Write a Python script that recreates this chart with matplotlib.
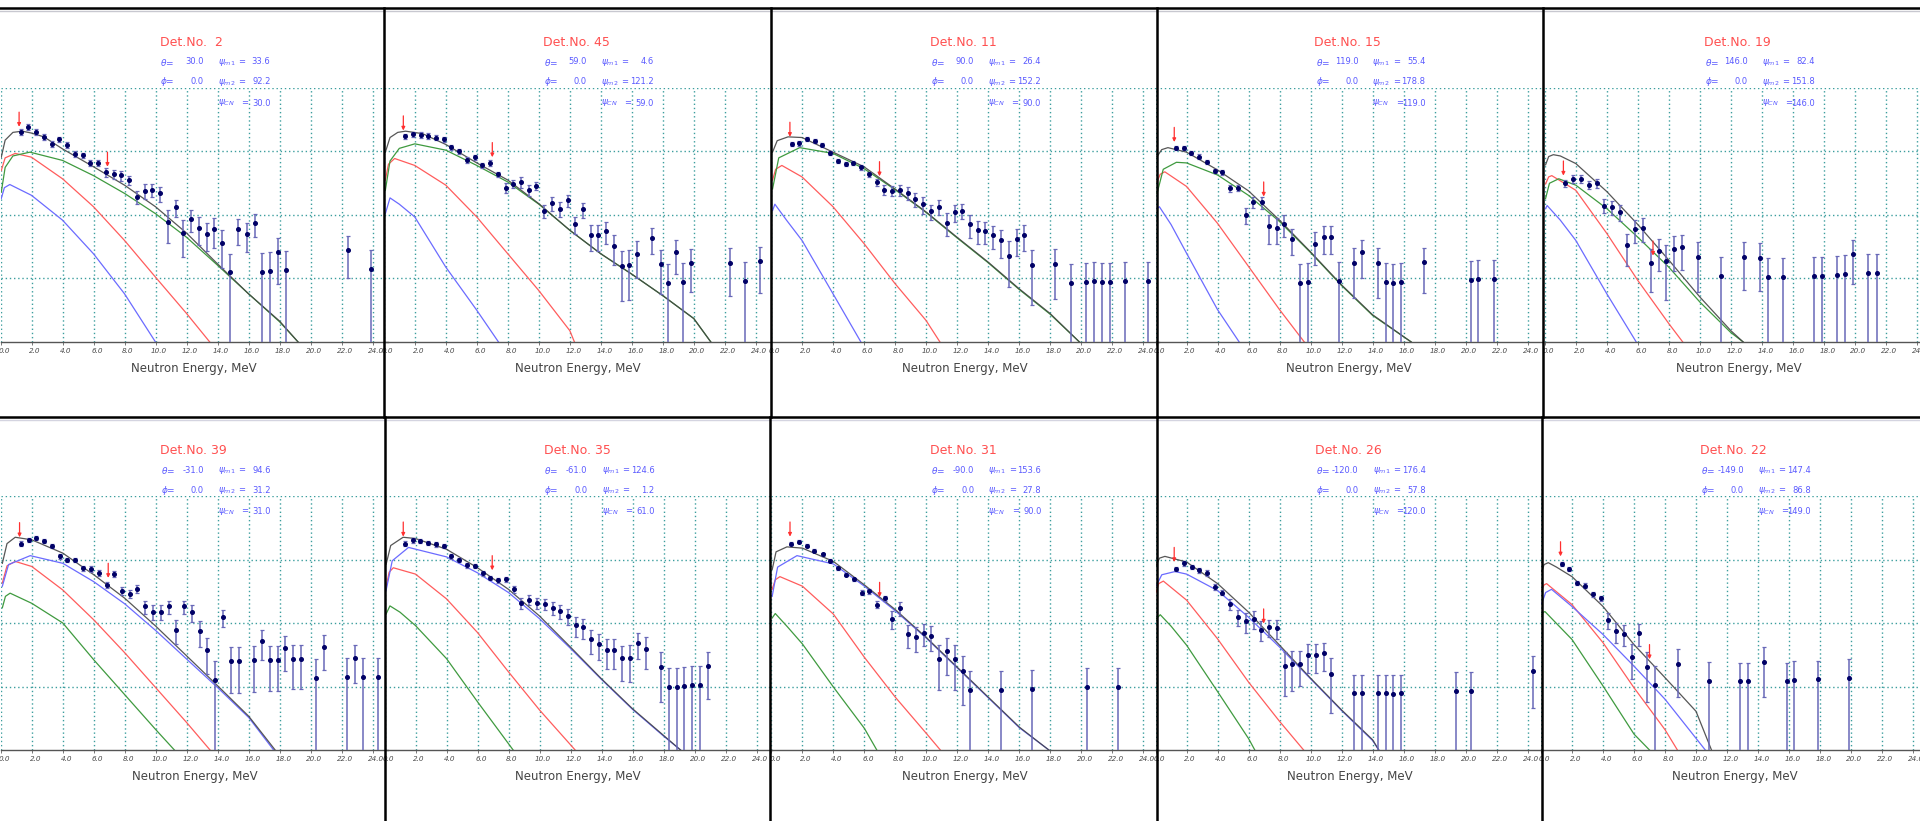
import numpy as np
import matplotlib
matplotlib.use("Agg")
import matplotlib.pyplot as plt
from matplotlib.lines import Line2D
from matplotlib.ticker import NullLocator
from matplotlib.transforms import ScaledTranslation

# detector settings, top row left to right, then bottom row
det_no = [2, 45, 11, 15, 19, 39, 35, 31, 26, 22]
theta = [30.0, 59.0, 90.0, 119.0, 146.0, -31.0, -61.0, -90.0, -120.0, -149.0]
phi = [0.0, 0.0, 0.0, 0.0, 0.0, 0.0, 0.0, 0.0, 0.0, 0.0]
psi_m1 = [33.6, 4.6, 26.4, 55.4, 82.4, 94.6, 124.6, 153.6, 176.4, 147.4]
psi_m2 = [92.2, 121.2, 152.2, 178.8, 151.8, 31.2, 1.2, 27.8, 57.8, 86.8]
psi_cn = [30.0, 59.0, 90.0, 119.0, 146.0, 31.0, 61.0, 90.0, 120.0, 149.0]

# measured spectra: energy (MeV), yield, relative error
p1_e = [1.3, 1.8, 2.3, 2.8, 3.3, 3.8, 4.3, 4.8, 5.3, 5.8,
        6.3, 6.8, 7.3, 7.8, 8.3, 8.8, 9.3, 9.8, 10.3, 10.8,
        11.3, 11.8, 12.3, 12.8, 13.3, 13.8, 14.3, 14.8, 15.3, 15.9,
        16.4, 16.9, 17.4, 17.9, 18.4, 22.4, 23.9]
p1_y = [2040, 2450, 2040, 1700, 1320, 1550, 1260, 910, 870, 660,
        660, 470, 440, 420, 355, 195, 240, 250, 220, 78,
        132, 52, 87, 63, 51, 60, 36, 12.6, 60, 51,
        74, 12.6, 13.2, 26, 13.5, 28, 14]
p1_rel = [.1, .1, .1, .1, .1, .1, .1, .1, .1, .1,
          .1, .17, .17, .17, .17, .24, .26, .24, .27, .53,
          .30, .58, .39, .47, .47, .49, .60, .94, .44, .49,
          .40, .99, .99, .68, .99, .64, .99]

p2_e = [1.37, 1.86, 2.38, 2.87, 3.36, 3.88, 4.35, 4.86, 5.35, 5.87,
        6.36, 6.87, 7.37, 7.86, 8.35, 8.87, 9.36, 9.85, 10.34, 10.86,
        11.35, 11.86, 12.36, 12.85, 13.34, 13.85, 14.35, 14.86, 15.35, 15.85,
        16.32, 17.32, 17.86, 18.33, 18.82, 19.31, 19.83, 22.31, 23.32, 24.3]
p2_y = [1740, 1860, 1820, 1780, 1660, 1550, 1170, 1000, 741, 813,
        603, 661, 437, 269, 309, 331, 245, 288, 117, 155,
        126, 170, 72, 123, 48, 48, 56, 32, 15.8, 16.2,
        24.5, 42.7, 17, 8.5, 26.3, 8.7, 17.8, 17.8, 9.1, 18.6]
p2_rel = [.1, .1, .1, .1, .1, .1, .1, .1, .12, .1,
          .1, .1, .1, .18, .15, .2, .2, .15, .24, .26,
          .27, .2, .3, .26, .44, .44, .38, .49, .72, .72,
          .58, .44, .66, .99, .56, .99, .66, .7, .99, .68]

p3_e = [1.33, 1.82, 2.33, 2.83, 3.32, 3.83, 4.33, 4.82, 5.31, 5.82,
        6.32, 6.83, 7.32, 7.82, 8.33, 8.82, 9.31, 9.83, 10.32, 10.86,
        11.35, 11.84, 12.33, 12.83, 13.34, 13.83, 14.35, 14.84, 15.35, 15.85,
        16.34, 16.85, 18.35, 19.36, 20.34, 20.86, 21.35, 21.84, 22.85, 24.35]
p3_y = [1320, 1350, 1580, 1480, 1260, 955, 708, 631, 661, 562,
        437, 331, 251, 240, 245, 224, 178, 148, 115, 135,
        76, 110, 117, 71, 57.5, 56, 48, 40, 22.9, 41.7,
        49, 16.2, 17, 8.5, 8.7, 9.1, 8.7, 8.7, 9.1, 9.1]
p3_rel = [.08, .08, .08, .08, .08, .08, .08, .08, .08, .08,
          .1, .12, .17, .18, .2, .24, .26, .3, .27, .27,
          .39, .3, .27, .39, .4, .38, .39, .47, .68, .45,
          .44, .76, .72, .99, .99, .99, .99, .99, .99, .99]

p4_e = [1.31, 1.81, 2.32, 2.81, 3.32, 3.84, 4.31, 4.82, 5.31, 5.84,
        6.31, 6.85, 7.34, 7.81, 8.32, 8.81, 9.35, 9.84, 10.31, 10.84,
        11.33, 11.83, 12.81, 13.32, 14.35, 14.84, 15.35, 15.84, 17.32, 20.33,
        20.82, 21.87]
p4_y = [1150, 1150, 955, 832, 692, 490, 468, 263, 269, 100,
        162, 158, 67.6, 61.7, 72.4, 41.7, 8.5, 8.7, 34.7, 45.7,
        45.7, 9.1, 17.4, 25.7, 17.4, 8.7, 8.5, 8.7, 18.2, 9.55,
        9.77, 9.77]
p4_rel = [.08, .08, .08, .08, .08, .08, .08, .12, .12, .27,
          .2, .22, .49, .44, .38, .44, .99, .99, .53, .47,
          .47, .99, .72, .6, .72, .99, .99, .99, .68, .99,
          .99, .99]

p5_e = [1.31, 1.81, 2.33, 2.82, 3.34, 3.84, 4.33, 4.83, 5.32, 5.84,
        6.34, 6.85, 7.35, 7.84, 8.36, 8.86, 9.87, 11.36, 12.84, 13.86,
        14.38, 15.39, 17.37, 17.89, 18.88, 19.38, 19.89, 20.88, 21.40]
p5_y = [316, 372, 372, 302, 316, 141, 132, 112, 33.1, 60.3,
        63.1, 17.8, 27.5, 19.1, 29.5, 30.9, 21.9, 11, 21.9, 21.4,
        10.5, 10.5, 11, 11, 11.5, 11.7, 24, 12, 12]
p5_rel = [.12, .15, .15, .15, .15, .25, .25, .27, .53, .39,
          .4, .66, .53, .76, .56, .56, .72, .99, .7, .7,
          .99, .99, .99, .99, .99, .99, .66, .99, .99]

p6_e = [1.30, 1.79, 2.29, 2.79, 3.30, 3.80, 4.30, 4.79, 5.29, 5.79,
        6.31, 6.83, 7.32, 7.82, 8.32, 8.81, 9.33, 9.83, 10.32, 10.82,
        11.32, 11.84, 12.33, 12.83, 13.33, 13.82, 14.34, 14.84, 15.36, 16.33,
        16.85, 17.34, 17.86, 18.34, 18.83, 19.35, 20.35, 20.84, 22.33, 22.83,
        23.35, 24.34]
p6_y = [1780, 2040, 2190, 1950, 1620, 1120, 977, 977, 724, 708,
        617, 398, 589, 324, 288, 347, 182, 151, 151, 182,
        79, 182, 148, 74, 37.2, 12.6, 123, 25.1, 25.1, 25.7,
        51.3, 26.3, 26.3, 39.8, 26.9, 26.9, 13.8, 41.7, 14.1, 28.2,
        14.1, 14.1]
p6_rel = [.08, .08, .08, .08, .08, .08, .08, .08, .1, .1,
          .1, .12, .1, .15, .15, .15, .24, .27, .27, .24,
          .4, .24, .3, .44, .58, .99, .3, .68, .68, .68,
          .49, .68, .68, .56, .66, .66, .99, .56, .99, .6,
          .99, .99]

p7_e = [1.32, 1.81, 2.32, 2.82, 3.33, 3.82, 4.31, 4.81, 5.32, 5.81,
        6.33, 6.82, 7.33, 7.85, 8.34, 8.81, 9.33, 9.84, 10.33, 10.85,
        11.34, 11.85, 12.35, 12.82, 13.35, 13.84, 14.34, 14.83, 15.34, 15.84,
        16.35, 16.84, 17.87, 18.36, 18.85, 19.34, 19.84, 20.35, 20.85]
p7_y = [1780, 2000, 1950, 1820, 1740, 1620, 1120, 977, 813, 794,
        603, 513, 468, 490, 339, 204, 234, 204, 200, 174,
        155, 129, 93, 85, 56, 46.8, 38, 38, 28.2, 28.2,
        49, 38.9, 20, 10, 10, 10.2, 10.5, 10.5, 20.9]
p7_rel = [.08, .08, .08, .08, .08, .08, .08, .08, .08, .08,
          .08, .08, .08, .1, .12, .2, .18, .2, .21, .24,
          .26, .27, .35, .35, .41, .44, .5, .5, .56, .58,
          .44, .52, .72, .98, .98, .98, .98, .98, .7]

p8_e = [1.29, 1.79, 2.31, 2.78, 3.32, 3.79, 4.29, 4.81, 5.30, 5.82,
        6.31, 6.81, 7.31, 7.80, 8.32, 8.81, 9.33, 9.83, 10.30, 10.84,
        11.31, 11.83, 12.33, 12.80, 14.83, 16.83, 20.39, 22.33]
p8_y = [1780, 1910, 1660, 1380, 1200, 955, 724, 575, 490, 302,
        316, 195, 245, 117, 174, 67.6, 60.3, 70.8, 63.1, 26.9,
        36.3, 26.9, 17.8, 8.9, 8.9, 9.1, 9.8, 10]
p8_rel = [.05, .05, .05, .05, .05, .05, .05, .05, .06, .1,
          .1, .12, .1, .3, .25, .4, .43, .38, .42, .67,
          .58, .67, .71, .99, .99, .99, .99, .99]

p9_e = [1.31, 1.80, 2.32, 2.81, 3.33, 3.82, 4.31, 4.81, 5.32, 5.82,
        6.33, 6.82, 7.32, 7.81, 8.33, 8.82, 9.33, 9.83, 10.32, 10.84,
        11.33, 12.81, 13.33, 14.36, 14.85, 15.34, 15.86, 19.36, 20.36, 24.36]
p9_y = [708, 871, 759, 676, 617, 372, 302, 200, 126, 107,
        117, 79, 87, 83, 20.9, 22.4, 22.9, 31.6, 31.6, 33.1,
        15.8, 7.76, 7.76, 7.76, 7.76, 7.59, 7.76, 8.5, 8.5, 17.4]
p9_rel = [.08, .08, .08, .08, .1, .1, .1, .2, .28, .35,
          .3, .35, .3, .32, .66, .62, .56, .49, .49, .47,
          .76, .99, .99, .99, .99, .99, .99, .99, .99, .74]

p10_e = [1.34, 1.83, 2.35, 2.84, 3.35, 3.84, 4.33, 4.84, 5.33, 5.88,
         6.35, 6.84, 7.33, 8.85, 10.85, 12.81, 13.33, 14.37, 15.86, 16.33,
         17.89, 19.85]
p10_y = [851, 708, 427, 389, 282, 245, 112, 74, 67.6, 29.5,
         70.8, 20.4, 10.5, 22.9, 12.3, 12, 12, 24.5, 12, 12.6,
         12.9, 13.5]
p10_rel = [.08, .08, .08, .08, .1, .1, .27, .35, .36, .56,
           .38, .72, .99, .7, .99, .98, .98, .72, .98, .98,
           .98, .98]

# calculated spectra as (E, yield) pairs: total (black) and components
p1_black = [(0.05, 813), (0.3, 1510), (0.8, 2000), (1.4, 2090), (2.0, 1950), (2.8, 1700), (4.0, 1100),
            (6.0, 575), (8.0, 295), (10.0, 135), (12.0, 52), (14.0, 17), (16.0, 5.75), (18.0, 2.14), (19.2, 1.0)]
p1_green = [(0.05, 229), (0.3, 562), (0.8, 851), (1.9, 977), (4.0, 724), (6.0, 417), (8.0, 219),
            (10.0, 105), (12.0, 44.7), (14.0, 16.2), (16.0, 5.75), (18.0, 2.09), (19.2, 1.0)]
p1_red = [(0.05, 501), (0.3, 794), (0.95, 933), (2.0, 813), (4.0, 372), (6.0, 135), (8.0, 39.8),
          (10.0, 10.5), (12.0, 2.82), (13.5, 1.0)]
p1_blue = [(0.05, 182), (0.25, 269), (0.6, 302), (2.0, 204), (4.0, 83), (6.0, 24.5), (8.0, 5.75), (10.0, 1.0)]

p2_black = [(0.1, 977), (0.4, 1660), (0.9, 2000), (1.4, 2090), (2.5, 1910), (4.0, 1290), (6.0, 661),
            (8.0, 355), (10.0, 151), (12.0, 57.5), (14.0, 24.5), (16.0, 11.7), (18.0, 5.37), (20.0, 2.34), (21.1, 1.0)]
p2_green = [(0.1, 245), (0.4, 708), (1.0, 1120), (2.0, 1320), (4.0, 1050), (6.0, 603), (8.0, 331),
            (10.0, 148), (12.0, 57.5), (14.0, 24.5), (16.0, 11.7), (18.0, 5.37), (20.0, 2.34), (21.1, 1.0)]
p2_red = [(0.1, 355), (0.3, 631), (0.7, 776), (2.0, 603), (4.0, 295), (6.0, 93), (8.0, 24.5),
          (10.0, 6.46), (12.0, 1.51), (12.3, 1.0)]
p2_blue = [(0.1, 105), (0.4, 186), (1.0, 148), (2.0, 93), (4.0, 15.1), (6.0, 3.16), (7.4, 1.0)]

p3_black = [(0.1, 977), (0.4, 1480), (1.1, 1700), (2.0, 1660), (4.0, 977), (6.0, 575), (8.0, 257),
            (10.0, 112), (12.0, 44.7), (14.0, 18.2), (16.0, 6.92), (18.0, 2.82), (19.9, 1.0)]
p3_green = [(0.1, 257), (0.5, 794), (1.85, 1150), (4.0, 933), (6.0, 537), (8.0, 251), (10.0, 110),
            (12.0, 43.7), (14.0, 17.8), (16.0, 6.76), (18.0, 2.75), (19.9, 1.0)]
p3_red = [(0.1, 355), (0.3, 525), (0.7, 603), (2.0, 398), (4.0, 135), (6.0, 35.5), (8.0, 8.32),
          (10.0, 2.19), (10.9, 1.0)]
p3_blue = [(0.1, 117), (0.25, 148), (1.0, 83), (2.0, 39.8), (4.0, 5.75), (5.8, 1.0)]

p4_black = [(0.1, 832), (0.4, 1070), (0.8, 1150), (2.0, 977), (4.0, 513), (6.0, 240), (8.0, 83),
            (10.0, 26.3), (12.0, 7.94), (14.0, 2.69), (16.5, 1.0)]
p4_green = [(0.1, 219), (0.5, 525), (1.35, 676), (2.0, 661), (4.0, 427), (6.0, 204), (8.0, 79),
            (10.0, 25.7), (12.0, 7.76), (14.0, 2.63), (16.5, 1.0)]
p4_red = [(0.1, 331), (0.3, 437), (0.6, 479), (2.0, 282), (4.0, 74), (6.0, 15.5), (8.0, 3.24), (9.6, 1.0)]
p4_blue = [(0.1, 126), (0.25, 135), (1.0, 71), (2.0, 25.1), (4.0, 3.24), (5.4, 1.0)]

p5_black = [(0.05, 617), (0.25, 832), (0.55, 891), (1.0, 851), (2.0, 646), (4.0, 234), (6.0, 70.8),
            (8.0, 19.5), (10.0, 5.13), (12.0, 1.51), (12.8, 1.0)]
p5_green = [(0.05, 182), (0.3, 316), (0.9, 372), (2.0, 295), (4.0, 126), (6.0, 44.7), (8.0, 15.1),
            (10.0, 4.27), (12.0, 1.41), (12.8, 1.0)]
p5_red = [(0.05, 309), (0.25, 398), (0.45, 417), (2.0, 245), (4.0, 51.3), (6.0, 9.33), (8.0, 1.95), (8.9, 1.0)]
p5_blue = [(0.05, 126), (0.15, 141), (1.0, 83), (2.0, 39.8), (4.0, 5.75), (5.9, 1.0)]

p6_black = [(0.1, 871), (0.4, 1780), (0.93, 2240), (2.0, 2040), (4.0, 1260), (6.0, 575), (8.0, 245),
            (10.0, 89), (12.0, 30.2), (14.0, 10.2), (16.0, 3.39), (17.7, 1.0)]
p6_blue = [(0.1, 380), (0.5, 832), (1.9, 1150), (4.0, 871), (6.0, 447), (8.0, 200), (10.0, 75.9),
           (12.0, 26.9), (14.0, 9.55), (16.0, 3.24), (17.6, 1.0)]
p6_red = [(0.1, 427), (0.4, 794), (0.93, 933), (2.0, 776), (4.0, 331), (6.0, 112), (8.0, 33.9),
          (10.0, 9.55), (12.0, 2.69), (13.5, 1.0)]
p6_green = [(0.1, 174), (0.3, 263), (0.6, 295), (2.0, 204), (4.0, 100), (6.0, 26.3), (8.0, 7.41),
            (10.0, 2.09), (11.2, 1.0)]

p7_black = [(0.1, 832), (0.4, 1660), (1.2, 2240), (2.0, 2140), (4.0, 1450), (6.0, 741), (8.0, 339),
            (10.0, 129), (12.0, 41.7), (14.0, 13.2), (16.0, 4.47), (18.0, 1.70), (19.1, 1.0)]
p7_blue = [(0.1, 324), (0.5, 955), (1.55, 1550), (4.0, 1100), (6.0, 617), (8.0, 302), (10.0, 117),
           (12.0, 39.8), (14.0, 12.9), (16.0, 4.37), (18.0, 1.66), (19.1, 1.0)]
p7_red = [(0.1, 363), (0.3, 631), (0.57, 741), (2.0, 589), (4.0, 240), (6.0, 70.8), (8.0, 17),
          (10.0, 4.27), (12.3, 1.0)]
p7_green = [(0.1, 138), (0.35, 186), (1.0, 148), (2.0, 91), (4.0, 27.5), (6.0, 5.75), (8.3, 1.0)]

p8_black = [(0.05, 692), (0.3, 1320), (1.0, 1580), (2.0, 1510), (4.0, 933), (6.0, 398), (8.0, 162),
            (10.0, 58.9), (12.0, 20), (14.0, 6.76), (16.0, 2.29), (17.9, 1.0)]
p8_blue = [(0.05, 263), (0.4, 759), (1.65, 1150), (4.0, 851), (6.0, 380), (8.0, 155), (10.0, 57.5),
           (12.0, 19.5), (14.0, 6.61), (16.0, 2.24), (17.9, 1.0)]
p8_red = [(0.05, 339), (0.25, 479), (0.55, 537), (2.0, 380), (4.0, 138), (6.0, 28.8), (8.0, 6.76),
          (10.0, 1.82), (10.9, 1.0)]
p8_green = [(0.05, 120), (0.25, 141), (1.0, 89), (2.0, 46.8), (4.0, 9.8), (6.0, 2.19), (6.8, 1.0)]

p9_black = [(0.05, 813), (0.25, 1050), (0.6, 1120), (2.0, 912), (4.0, 417), (6.0, 148), (8.0, 44.7),
            (10.0, 13.5), (12.0, 4.27), (14.0, 1.45), (14.4, 1.0)]
p9_blue = [(0.05, 389), (0.4, 575), (1.25, 646), (2.0, 589), (4.0, 324), (6.0, 123), (8.0, 41.7),
           (10.0, 13.2), (12.0, 4.17), (14.0, 1.41), (14.4, 1.0)]
p9_red = [(0.05, 309), (0.2, 417), (0.5, 457), (2.0, 229), (4.0, 56.2), (6.0, 11.7), (8.0, 2.82), (9.55, 1.0)]
p9_green = [(0.05, 117), (0.3, 135), (1.0, 89), (2.0, 44.7), (4.0, 8.3), (6.0, 1.51), (6.4, 1.0)]

p10_black = [(0.05, 646), (0.2, 832), (0.47, 891), (1.0, 759), (2.0, 537), (4.0, 182), (6.0, 45.7),
             (8.0, 13.8), (10.0, 4.07), (11.0, 1.0)]
p10_blue = [(0.05, 204), (0.3, 302), (0.68, 339), (2.0, 182), (4.0, 66), (6.0, 20.9), (8.0, 6.31), (10.6, 1.0)]
p10_red = [(0.05, 331), (0.2, 398), (0.36, 417), (2.0, 195), (4.0, 49), (6.0, 9.55), (8.0, 2.09), (8.8, 1.0)]
p10_green = [(0.05, 135), (0.15, 148), (0.26, 151), (2.0, 55), (4.0, 10.2), (6.0, 1.78), (7.0, 1.0)]

# threshold markers (E, yield at arrow tip)
arrows = [
    [(1.2, 2450), (6.9, 575)],
    [(1.26, 2140), (7.0, 813)],
    [(1.22, 1700), (7.0, 407)],
    [(1.21, 1410), (6.98, 195)],
    [(1.2, 417), (6.98, 22.9)],
    [(1.21, 2240), (6.93, 513)],
    [(1.21, 2290), (6.95, 676)],
    [(1.2, 2290), (6.98, 257)],
    [(1.2, 912), (6.97, 98)],
    [(1.26, 1120), (7.0, 26.9)],
]

data = [(p1_e, p1_y, p1_rel), (p2_e, p2_y, p2_rel), (p3_e, p3_y, p3_rel), (p4_e, p4_y, p4_rel),
        (p5_e, p5_y, p5_rel), (p6_e, p6_y, p6_rel), (p7_e, p7_y, p7_rel), (p8_e, p8_y, p8_rel),
        (p9_e, p9_y, p9_rel), (p10_e, p10_y, p10_rel)]
curves = [
    {"black": p1_black, "green": p1_green, "red": p1_red, "blue": p1_blue},
    {"black": p2_black, "green": p2_green, "red": p2_red, "blue": p2_blue},
    {"black": p3_black, "green": p3_green, "red": p3_red, "blue": p3_blue},
    {"black": p4_black, "green": p4_green, "red": p4_red, "blue": p4_blue},
    {"black": p5_black, "green": p5_green, "red": p5_red, "blue": p5_blue},
    {"black": p6_black, "green": p6_green, "red": p6_red, "blue": p6_blue},
    {"black": p7_black, "green": p7_green, "red": p7_red, "blue": p7_blue},
    {"black": p8_black, "green": p8_green, "red": p8_red, "blue": p8_blue},
    {"black": p9_black, "green": p9_green, "red": p9_red, "blue": p9_blue},
    {"black": p10_black, "green": p10_green, "red": p10_red, "blue": p10_blue},
]
line_colors = {"black": "#444444", "green": "#3f9a3f", "red": "#ff5c5c", "blue": "#6b6bff"}

W, H = 1920, 821
PX_MEV = 15.5
# left edge (E = 0) of each panel in pixels
x0 = [[0.5, 383.8, 771.0, 1155.5, 1544.8],
      [0.8, 384.5, 771.4, 1155.6, 1541.0]]

fig = plt.figure(figsize=(W / 100, H / 100), dpi=100)
fig.patch.set_facecolor("white")


def ftext(x, y, s, **kw):
    fig.text(x / W, 1 - y / H, s, **kw)


def fline(xs, ys, color, lw):
    fig.add_artist(Line2D([x / W for x in xs], [1 - y / H for y in ys],
                          color=color, lw=lw, transform=fig.transFigure, zorder=10))


blue_txt = "#5a5aff"
shift = ScaledTranslation(3.5 / 100, 0, fig.dpi_scale_trans)

for i in range(10):
    row, col = divmod(i, 5)
    dy = 408 * row
    left = x0[row][col]
    ax = fig.add_axes([left / W, 1 - (342 + dy) / H, 25 * PX_MEV / W, 254 / H])
    ax.set_facecolor("none")
    ax.set_yscale("log")
    ax.set_xlim(0, 25)
    ax.set_ylim(1, 1e4)

    ticks = np.arange(0, 25, 2)
    ax.set_xticks(ticks)
    ax.set_xticklabels([f"{t:.1f}" for t in ticks])
    ax.set_yticks([10, 100, 1000, 10000])
    ax.yaxis.set_minor_locator(NullLocator())
    ax.tick_params(axis="y", length=0, labelleft=False)
    ax.tick_params(axis="x", length=2.2, width=0.7, color="#777777", pad=2.3,
                   labelsize=5.2, labelcolor="#4a4a4a")
    for lbl in ax.get_xticklabels():
        lbl.set_fontstyle("italic")
        lbl.set_transform(lbl.get_transform() + shift)
    ax.grid(True, color="#3c9e9e", linestyle=(0, (1, 2)), linewidth=1.0)
    for s in ("top", "right", "left"):
        ax.spines[s].set_visible(False)
    ax.spines["bottom"].set_color("#555555")
    ax.spines["bottom"].set_linewidth(1.0)

    # calculated components, then the total on top
    for name in ("red", "green", "blue", "black"):
        pts = curves[i][name]
        ax.plot([p[0] for p in pts], [p[1] for p in pts], color=line_colors[name],
                lw=0.9, zorder=2, alpha=0.9 if name == "black" else 1.0)

    e, y, rel = data[i]
    y = np.array(y)
    ax.errorbar(e, y, yerr=y * np.array(rel), fmt="o", ms=2.6, mfc="#000066", mec="#000066",
                ecolor="#6868b8", elinewidth=1.1, capsize=1.6, capthick=0.9, zorder=3)

    for ea, tip in arrows[i]:
        ax.annotate("", xy=(ea, tip), xytext=(ea, tip * 1.7),
                    arrowprops=dict(arrowstyle="-|>", color="#ff3030", lw=0.9,
                                    shrinkA=0, shrinkB=0, mutation_scale=5), zorder=4)

    # header text
    ftext(left + 159, 42 + dy, f"Det.No. {det_no[i]:2d}", color="#ff5050", fontsize=9, va="center")
    ftext(left + 160, 62 + dy, r"$\theta$=", color=blue_txt, fontsize=6.5, va="center")
    ftext(left + 203, 62 + dy, f"{theta[i]:.1f}", color=blue_txt, fontsize=6, va="center", ha="right")
    ftext(left + 160, 82 + dy, r"$\phi$=", color=blue_txt, fontsize=6.5, va="center")
    ftext(left + 203, 82 + dy, f"{phi[i]:.1f}", color=blue_txt, fontsize=6, va="center", ha="right")
    for yy, sub, val, eqx in ((62, "m1", psi_m1[i], 241), (82, "m2", psi_m2[i], 241),
                              (103, "CN", psi_cn[i], 244)):
        ftext(left + 217, yy + dy, r"$\psi_{" + sub + "}$", color=blue_txt, fontsize=6.5, va="center")
        ftext(left + eqx, yy + dy, "=", color=blue_txt, fontsize=6, va="center", ha="center")
        ftext(left + 270, yy + dy, f"{val:.1f}", color=blue_txt, fontsize=6, va="center", ha="right")

    ftext(left + 12.5 * PX_MEV, 368 + dy, "Neutron Energy, MeV", color="#444444",
          fontsize=8.5, va="center", ha="center")

# panel frames
fline([0, W], [11, 11], "#c8c8d0", 1.0)
fline([0, W], [420, 420], "#d4d4e0", 1.0)
fline([0, W], [8, 8], "black", 1.8)
fline([0, W], [417, 417], "black", 1.8)
for x in (384, 771, 1156.5, 1543):
    fline([x, x], [8, 417], "black", 1.8)
for x in (384.5, 769.5, 1156.5, 1542):
    fline([x, x], [417, H], "black", 1.8)

fig.savefig("out.png", dpi=100)
